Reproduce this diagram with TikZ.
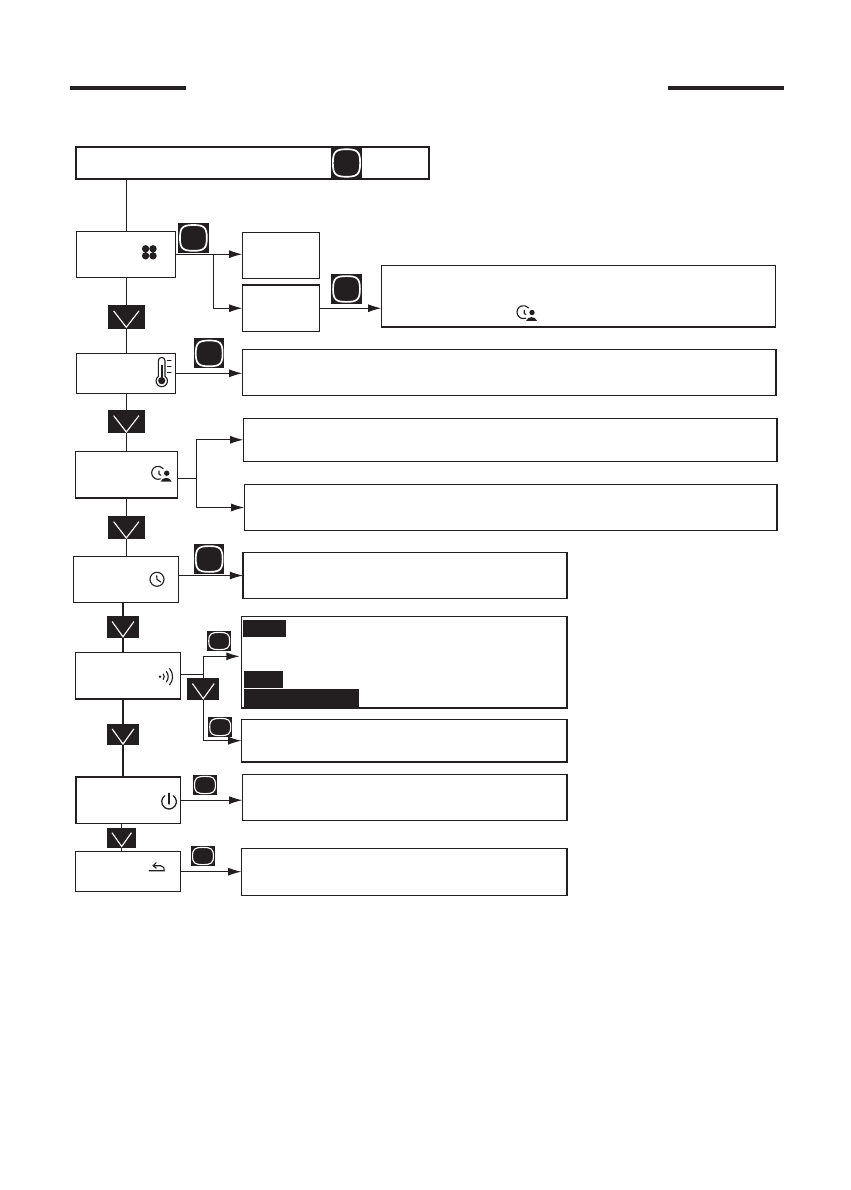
\documentclass[tikz,border=0pt]{standalone}
\usepackage{xcolor}
\usetikzlibrary{arrows.meta, calc}
\definecolor{tinta}{HTML}{231F20}

\begin{document}
\begin{tikzpicture}[
  x=0.025cm, y=-0.025cm,
  box/.style={draw=tinta, line width=0.8pt, fill=white, inner sep=0pt, outer sep=0pt},
  block/.style={fill=tinta, inner sep=0pt, outer sep=0pt},
  conn/.style={draw=tinta, line width=0.75pt},
  arrow/.style={conn, -{Latex[length=3.3mm, width=2mm]}},
  okkey/.style={block, path picture={
    \begin{scope}[shift={(path picture bounding box.center)}]
      \draw[white, line width=#1] let \p1=($(path picture bounding box.north east)-(path picture bounding box.center)$) in
        (0,0.86*\y1) .. controls (0.7*\x1,0.86*\y1) and (0.88*\x1,0.7*\y1) .. (0.88*\x1,0)
        .. controls (0.88*\x1,-0.7*\y1) and (0.7*\x1,-0.86*\y1) .. (0,-0.86*\y1)
        .. controls (-0.7*\x1,-0.86*\y1) and (-0.88*\x1,-0.7*\y1) .. (-0.88*\x1,0)
        .. controls (-0.88*\x1,0.7*\y1) and (-0.7*\x1,0.86*\y1) .. cycle;
    \end{scope}}},
  okbig/.style={okkey=1.2pt, minimum width=30.5*\u, minimum height=30*\u},
  oksmall/.style={okkey=0.8pt, minimum width=23.7*\u, minimum height=20*\u},
  downkey/.style={block, path picture={
    \begin{scope}[shift={(path picture bounding box.center)}]
      \draw[white, line width=0.8pt] let \p1=($(path picture bounding box.north east)-(path picture bounding box.center)$) in
        (-0.68*\x1,0.52*\y1) -- (0,-0.88*\y1) -- (0.68*\x1,0.52*\y1);
    \end{scope}}},
  downbig/.style={downkey, minimum width=37.3*\u, minimum height=23.4*\u},
  downsmall/.style={downkey, minimum width=32*\u, minimum height=21.7*\u},
  icon/.style={draw=tinta, line width=0.8pt, line cap=round},
  clockuser/.pic={
    \draw[icon] (-1.3,-4.9) arc[start angle=-70, end angle=-320, radius=6.5];
    \draw[icon] (-2.7,3) -- (-2.7,0) -- (-1,-1.3);
    \fill[tinta] (5,0.8) circle[radius=2.7];
    \fill[tinta] (-1,-7.6) .. controls (0.5,-2.6) and (8.5,-2.6) .. (10,-7.6) -- cycle;
  },
]

\def\u{0.025cm} % un pixel del original
\useasboundingbox (0,0) rectangle (850,1190);

\node[block, minimum width=116*\u, minimum height=4*\u] (barL) at (128,88) {};
\node[block, minimum width=116*\u, minimum height=4*\u] (barR) at (726,88) {};

\node[box, minimum width=353*\u, minimum height=32*\u] (boxTop) at (252.5,163) {};
\node[okkey=1.2pt, minimum width=31*\u, minimum height=32*\u] (okTop) at (346.5,163) {};

% columna izquierda
\node[box, minimum width=99*\u, minimum height=46*\u] (boxFan) at (126.2,254.2) {};
\node[box, minimum width=99*\u, minimum height=40*\u] (boxTemp) at (126.2,373.3) {};
\node[box, minimum width=102*\u, minimum height=46.3*\u] (boxSleep) at (126.3,474.8) {};
\node[box, minimum width=105*\u, minimum height=46.4*\u] (boxClock) at (126.2,579.5) {};
\node[box, minimum width=104.6*\u, minimum height=46.7*\u] (boxWifi) at (128,675.7) {};
\node[box, minimum width=104.3*\u, minimum height=46.3*\u] (boxPower) at (128.2,800.2) {};
\node[box, minimum width=104.6*\u, minimum height=40*\u] (boxBack) at (128,871.7) {};

% columna derecha
\node[box, minimum width=77.4*\u, minimum height=46.4*\u] (boxFanA) at (281,255.5) {};
\node[box, minimum width=77.4*\u, minimum height=46.3*\u] (boxFanB) at (281,308.2) {};
\node[box, minimum width=394.4*\u, minimum height=61.2*\u] (boxFanC) at (578.5,296.4) {};
\node[box, minimum width=533.7*\u, minimum height=46.4*\u] (boxTempR) at (509.2,372.5) {};
\node[box, minimum width=533.7*\u, minimum height=43*\u] (boxSleepA) at (510.2,439.8) {};
\node[box, minimum width=532.7*\u, minimum height=46.4*\u] (boxSleepB) at (510.7,507.5) {};
\node[box, minimum width=324*\u, minimum height=46.4*\u] (boxClockR) at (405,575.5) {};
\node[box, minimum width=325.7*\u, minimum height=91.3*\u] (boxWifiA) at (404.2,662.3) {};
\node[box, minimum width=325.7*\u, minimum height=42.7*\u] (boxWifiB) at (404.2,740.7) {};
\node[box, minimum width=324.7*\u, minimum height=46.4*\u] (boxPowerR) at (404.7,797.5) {};
\node[box, minimum width=325.7*\u, minimum height=46.6*\u] (boxBackR) at (404.2,872) {};

\node[block, minimum width=43*\u, minimum height=16.7*\u] (hlA) at (264.5,628.3) {};
\node[block, minimum width=39*\u, minimum height=17*\u] (hlB) at (263.5,679.5) {};
\node[block, minimum width=115*\u, minimum height=18*\u] (hlC) at (301.5,698) {};

% teclas
\node[okbig] (okFan) at (193.4,237.9) {};
\node[okbig] (okFanB) at (346.5,289) {};
\node[okbig] (okTemp) at (209.2,353.4) {};
\node[okbig] (okClock) at (209.2,559) {};
\node[oksmall] (okWifiA) at (219.2,641) {};
\node[oksmall] (okWifiB) at (220.2,727) {};
\node[oksmall] (okPower) at (205,785) {};
\node[oksmall] (okBack) at (203,856) {};

\node[downbig] (downA) at (126.3,317) {};
\node[downbig] (downB) at (126.3,421.7) {};
\node[downbig] (downC) at (126.3,527.7) {};
\node[downsmall] (downD) at (123,627.2) {};
\node[downsmall] (downE) at (203.3,689.2) {};
\node[downsmall] (downF) at (123,734.5) {};
\node[downkey, minimum width=28.7*\u, minimum height=19.7*\u] (downG) at (121.7,837.8) {};

% conectores verticales
\draw[conn] (boxFan.north |- boxTop.south) -- (boxFan.north);
\draw[conn] (downA.north |- boxFan.south) -- (downA.north);
\draw[conn] (downA.south) -- (downA.south |- boxTemp.north);
\draw[conn] (downB.north |- boxTemp.south) -- (downB.north);
\draw[conn] (downB.south) -- (downB.south |- boxSleep.north);
\draw[conn] (downC.north |- boxSleep.south) -- (downC.north);
\draw[conn] (downC.south) -- (downC.south |- boxClock.north);
\draw[conn] (downD.north |- boxClock.south) -- (downD.north);
\draw[conn] (downD.south) -- (downD.south |- boxWifi.north);
\draw[conn] (downF.north |- boxWifi.south) -- (downF.north);
\draw[conn] (downF.south) -- (downF.south |- boxPower.north);
\draw[conn] (downG.north |- boxPower.south) -- (downG.north);
\draw[conn] (downG.south) -- (downG.south |- boxBack.north);

% flechas
\coordinate (jFan) at (213.7,254.2);
\draw[arrow] (boxFan.east) -- (boxFan.east -| boxFanA.west);
\draw[arrow] (jFan) |- (boxFanB.west);
\draw[arrow] (boxFanB.east) -- (boxFanB.east -| boxFanC.west);
\draw[arrow] (boxTemp.east) -- (boxTemp.east -| boxTempR.west);

\coordinate (jSleep) at (196.3,478.7);
\draw[conn] (jSleep -| boxSleep.east) -- (jSleep);
\draw[arrow] (jSleep) |- (boxSleepA.west);
\draw[arrow] (jSleep) |- (boxSleepB.west);

\draw[arrow] (boxClock.north east |- boxClockR.west) -- (boxClockR.west);

\coordinate (jWifi) at (203.3,674.3);
\coordinate (tipWifi) at (239.5,656.3);
\draw[conn] (jWifi -| boxWifi.east) -- (jWifi);
\draw[conn] (jWifi) -- (downE.north);
\draw[arrow] (jWifi) |- (tipWifi);
\draw[arrow] (downE.south) |- (boxWifiB.west);

\draw[arrow] (boxPower.east) -- (boxPower.east -| boxPowerR.west);
\draw[arrow] (boxBack.east) -- (boxBack.east -| boxBackR.west);

% iconos
\foreach \dx in {-3.7,3.7} \foreach \dy in {-3.5,3.5}
  \fill[tinta] (149.3+\dx,252.3+\dy) circle[radius=3.7];

\begin{scope}[shift={(161.7,380.7)}, yscale=-1]
  \draw[icon] (-3.3,4.4) -- (-3.3,20) arc[start angle=180, end angle=0, radius=3.3] -- (3.3,4.4)
    arc[start angle=55, end angle=-235, radius=5.7];
  \fill[tinta] (0,0) circle[radius=3.6];
  \fill[tinta] (-1,2) rectangle (1,16);
  \draw[icon] (5.7,20) -- (9.3,20);
  \draw[icon] (5.7,14) -- (9.3,14);
  \draw[icon] (5.7,8) -- (9.3,8);
\end{scope}

\pic[yscale=-1] at (161.7,474) {clockuser};
\pic[yscale=-1] at (527,313.3) {clockuser};

\begin{scope}[shift={(157,579.3)}, yscale=-1]
  \draw[icon] (0,0) circle[radius=7];
  \draw[icon] (-0.3,3.5) -- (0,0) -- (3.5,-2.6);
\end{scope}

\begin{scope}[shift={(160,676.7)}, yscale=-1]
  \fill[tinta] (0,0) circle[radius=1.3];
  \foreach \r in {4.2,8.2,12.6}
    \draw[icon] (40:\r) arc[start angle=40, end angle=-40, radius=\r];
\end{scope}

\begin{scope}[shift={(169,801.7)}, yscale=-1]
  \draw[icon, line width=0.9pt] (55:7.3) arc[start angle=55, end angle=-235, radius=7.3];
  \draw[icon, line width=0.9pt] (0,8.4) -- (0,-2.3);
\end{scope}

\begin{scope}[shift={(156.7,866.7)}, yscale=-1]
  \draw[icon] (-7.5,-4) -- (7.5,-4) .. controls (8,-2) and (7,1) .. (4,1) -- (-3.5,1);
  \draw[icon] (-0.5,4) -- (-3.5,1) -- (-0.5,-1.5);
\end{scope}

\end{tikzpicture}
\end{document}
